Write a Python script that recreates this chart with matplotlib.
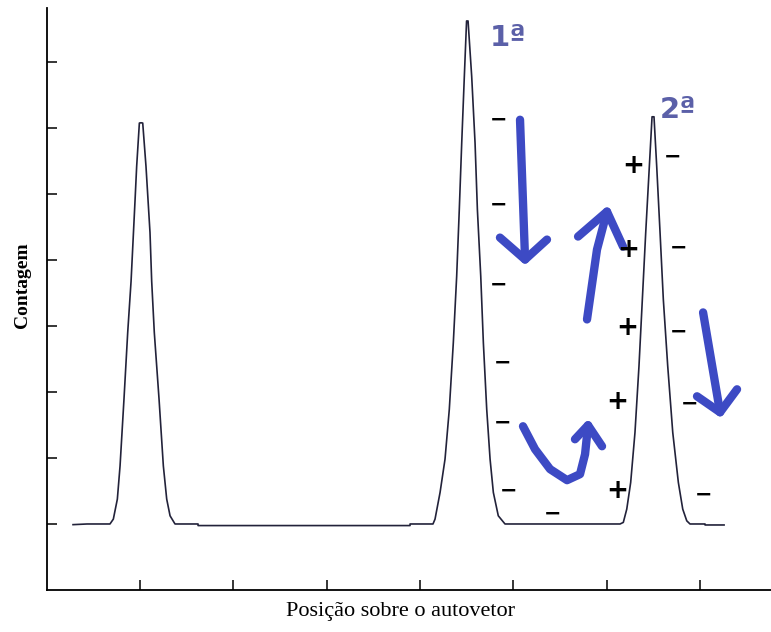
import matplotlib
matplotlib.use("Agg")
import matplotlib.pyplot as plt

# Curve (x in tick units, y in tick units; baseline at 1)
curve_x = [0.282, 0.432, 0.657, 0.678, 0.714, 0.757, 0.786, 0.828, 0.868, 0.904,
           0.947, 0.964, 0.993, 1.011, 1.029, 1.064, 1.107, 1.125, 1.153, 1.204,
           1.250, 1.286, 1.322, 1.375, 1.622, 1.622, 3.894, 3.894, 4.140,
           4.162, 4.216, 4.269, 4.315, 4.358, 4.394, 4.422, 4.448, 4.476, 4.500,
           4.516, 4.555, 4.591, 4.616, 4.652, 4.680, 4.716, 4.752, 4.787, 4.840,
           4.912, 6.145, 6.180, 6.217, 6.259, 6.305, 6.348, 6.384, 6.420, 6.459,
           6.488, 6.509, 6.538, 6.574, 6.609, 6.656, 6.710, 6.770, 6.817, 6.860,
           6.895, 7.056, 7.056, 7.260]
curve_y = [0.99, 1.0, 1.0, 1.0, 1.074, 1.377, 1.880, 2.890, 3.903, 4.679,
           5.915, 6.419, 7.076, 7.08, 7.076, 6.419, 5.416, 4.679, 3.903, 2.890,
           1.880, 1.377, 1.124, 1.0, 1.0, 0.976, 0.976, 1.0, 1.0,
           1.074, 1.478, 1.982, 2.738, 3.747, 4.755, 5.764, 6.773, 7.781, 8.623,
           8.623, 7.781, 6.773, 5.764, 4.755, 3.747, 2.738, 1.982, 1.478, 1.124,
           1.0, 1.0, 1.024, 1.225, 1.629, 2.386, 3.393, 4.402, 5.411, 6.419,
           7.171, 7.171, 6.419, 5.411, 4.402, 3.393, 2.386, 1.629, 1.225, 1.048,
           1.0, 1.0, 0.985, 0.985]

x_ticks = [1, 2, 3, 4, 5, 6, 7]
y_ticks = [1, 2, 3, 4, 5, 6, 7, 8]

# hand-drawn annotations
minus_x = [4.848, 4.848, 4.848, 4.891, 4.891, 4.955, 5.427,
           6.713, 6.777, 6.777, 6.895, 7.035]
minus_y = [7.126, 5.840, 4.629, 3.449, 2.542, 1.513, 1.165,
           6.566, 5.189, 3.918, 2.829, 1.452]
plus_x = [6.284, 6.231, 6.220, 6.113, 6.113]
plus_y = [6.430, 5.159, 3.964, 2.844, 1.498]

arrow_strokes = [
    ([5.073, 5.127], [7.126, 5.008]),
    ([4.858, 5.127, 5.362], [5.340, 5.008, 5.310]),
    ([5.791, 5.898, 6.005], [4.100, 5.159, 5.734]),
    ([5.695, 6.005, 6.177], [5.356, 5.734, 5.204]),
    ([7.035, 7.217], [4.206, 2.693]),
    ([6.970, 7.217, 7.399], [2.935, 2.693, 3.041]),
    ([5.105, 5.234, 5.395, 5.577, 5.716, 5.770, 5.802],
     [2.481, 2.133, 1.831, 1.664, 1.755, 2.057, 2.496]),
    ([5.662, 5.802, 5.952], [2.284, 2.496, 2.178]),
]
peak_labels = ["1ª", "2ª"]
peak_label_x = [4.751, 6.573]
peak_label_y = [8.24, 7.15]

fig = plt.figure(figsize=(7.71, 6.32), dpi=100)
ax = fig.add_axes([0.0606, 0.0665, 0.9394, 0.9209])

ax.plot(curve_x, curve_y, color='#22223a', linewidth=1.2)

ink = '#3d4ac4'
for xs, ys in arrow_strokes:
    ax.plot(xs, ys, color=ink, linewidth=6, solid_capstyle='round',
            solid_joinstyle='round')

for x, y in zip(minus_x, minus_y):
    ax.text(x, y, '\u2212', fontsize=15, fontweight='bold', color='black',
            ha='center', va='center', family='DejaVu Sans')
for x, y in zip(plus_x, plus_y):
    ax.text(x, y, '+', fontsize=19, fontweight='bold', color='black',
            ha='center', va='center', family='DejaVu Sans')
for t, x, y in zip(peak_labels, peak_label_x, peak_label_y):
    ax.text(x, y, t, fontsize=21, fontweight='bold', color='#5b60a8',
            ha='left', va='baseline', family='DejaVu Sans')

ax.set_xlim(0, 7.763)
ax.set_ylim(0, 8.82)
ax.set_xticks(x_ticks)
ax.set_yticks(y_ticks)
ax.set_xticklabels([])
ax.set_yticklabels([])
ax.tick_params(direction='in', length=7, width=1.1, color='black')
for s in ['top', 'right']:
    ax.spines[s].set_visible(False)
for s in ['left', 'bottom']:
    ax.spines[s].set_linewidth(1.3)

fig.text(0.52, 0.032, 'Posição sobre o autovetor', ha='center', va='center',
         fontsize=16, family='Liberation Serif')
fig.text(0.029, 0.549, 'Contagem', ha='center', va='center', rotation=90,
         fontsize=14, fontweight='bold', family='Liberation Serif')

fig.savefig('out.png', dpi=100)
